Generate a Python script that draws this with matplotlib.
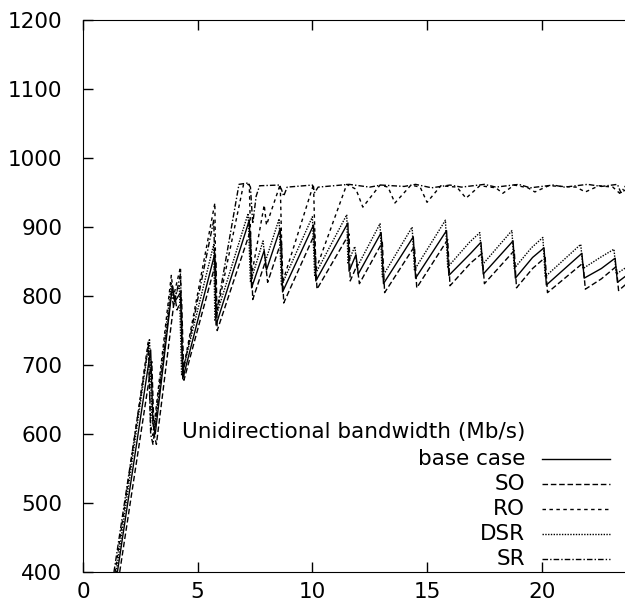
import matplotlib
matplotlib.use("Agg")
import matplotlib.pyplot as plt
from matplotlib.lines import Line2D

plt.rcParams['font.family'] = ['DejaVu Sans']

# data (time vs bandwidth)
base_x = [1.5, 2.95, 3.05, 3.15, 3.9, 4.0, 4.25, 4.35, 5.75, 5.8, 7.25, 7.35, 7.9, 8.0, 8.6, 8.7,
          10.05, 10.15, 11.55, 11.6, 11.9, 12.0, 13.0, 13.1, 14.4, 14.5, 15.85, 15.95, 16.9, 17.35,
          17.45, 18.75, 18.85, 19.6, 20.1, 20.2, 21.75, 21.85, 22.6, 23.2, 23.3, 23.7]
base_y = [400, 722, 615, 600, 815, 792, 805, 680, 862, 758, 910, 812, 866, 838, 898, 806,
          903, 822, 906, 836, 860, 832, 892, 818, 886, 826, 895, 830, 862, 878,
          832, 880, 826, 856, 870, 816, 862, 826, 840, 855, 820, 830]

so_x = [1.6, 3.0, 3.1, 3.2, 4.0, 4.1, 4.3, 4.4, 5.8, 5.85, 7.3, 7.4, 7.95, 8.05, 8.65, 8.75,
        10.1, 10.2, 11.6, 11.65, 11.95, 12.05, 13.05, 13.15, 14.45, 14.55, 15.9, 16.0, 16.9, 17.4,
        17.5, 18.8, 18.9, 19.6, 20.15, 20.25, 21.8, 21.9, 22.6, 23.25, 23.35, 23.7]
so_y = [400, 705, 600, 585, 800, 780, 795, 678, 850, 750, 895, 795, 850, 820, 880, 790,
        890, 810, 890, 822, 845, 818, 878, 805, 872, 812, 882, 815, 848, 862,
        818, 866, 812, 840, 856, 805, 848, 810, 825, 843, 808, 818]

ro_x = [1.4, 2.85, 2.95, 3.05, 3.85, 3.95, 4.25, 4.35, 5.75, 5.8, 7.0, 7.25, 7.35, 7.9, 8.0,
        8.6, 8.7, 10.05, 10.15, 11.5, 11.9, 12.2, 12.95, 13.3, 13.6, 14.3, 14.7, 15.0, 15.6,
        16.3, 16.7, 17.3, 18.0, 18.3, 18.8, 19.4, 19.7, 20.3, 21.5, 21.9, 22.5, 23.1, 23.4, 23.7]
ro_y = [400, 735, 612, 598, 830, 800, 842, 690, 935, 770, 962, 962, 830, 932, 903,
        962, 820, 962, 838, 962, 955, 929, 961, 958, 935, 961, 958, 936, 960,
        958, 942, 960, 957, 949, 961, 957, 951, 960, 958, 951, 960, 958, 949, 955]

dsr_x = [1.45, 2.9, 3.0, 3.1, 3.85, 3.95, 4.2, 4.3, 5.7, 5.75, 7.2, 7.3, 7.85, 7.95, 8.55, 8.65,
         10.0, 10.1, 11.5, 11.55, 11.85, 11.95, 12.95, 13.05, 14.35, 14.45, 15.8, 15.9, 16.85, 17.3,
         17.4, 18.7, 18.8, 19.55, 20.05, 20.15, 21.7, 21.8, 22.55, 23.15, 23.25, 23.7]
dsr_y = [400, 738, 625, 605, 818, 795, 815, 685, 875, 765, 920, 820, 880, 850, 912, 815,
         915, 830, 918, 848, 872, 842, 905, 828, 900, 838, 910, 842, 878, 892,
         845, 895, 840, 870, 885, 828, 875, 840, 856, 868, 832, 842]

sr_x = [1.35, 2.85, 2.95, 3.05, 3.85, 3.95, 4.25, 4.35, 5.7, 5.8, 6.8, 7.2, 7.3, 7.4, 7.55, 7.7,
        8.55, 8.65, 8.75, 8.9, 10.0, 10.1, 10.25, 11.6, 12.5, 13.0, 14.0, 14.5, 15.2, 16.0, 16.5,
        17.5, 18.0, 19.0, 19.5, 20.5, 21.0, 22.0, 22.6, 23.3, 23.45, 23.7]
sr_y = [400, 728, 600, 585, 805, 785, 832, 688, 910, 772, 962, 964, 958, 905, 945, 960,
        961, 955, 945, 958, 961, 950, 958, 962, 958, 961, 959, 962, 957, 961, 958,
        962, 958, 962, 957, 961, 958, 962, 959, 962, 950, 962]

names = ['base case', 'SO', 'RO', 'DSR', 'SR']
styles = ['-', (0, (4, 2)), (0, (2.5, 2.5)), (0, (1, 1)), (0, (4, 1.5, 1, 1.5))]
series = [(base_x, base_y), (so_x, so_y), (ro_x, ro_y), (dsr_x, dsr_y), (sr_x, sr_y)]

fig = plt.figure(figsize=(6.25, 6.09), dpi=100)
ax = fig.add_axes([0.1328, 0.0608, 0.8672, 0.906])

for (xs, ys), ls in zip(series, styles):
    ax.plot(xs, ys, color='black', linestyle=ls, linewidth=1.0)

ax.set_xlim(0, 23.63)
ax.set_ylim(400, 1200)
ax.set_xticks([0, 5, 10, 15, 20])
ax.set_yticks(range(400, 1201, 100))
ax.tick_params(direction='in', length=7, labelsize=15.5, top=True, right=False, width=1)
ax.tick_params(axis='y', pad=15)
ax.tick_params(axis='x', pad=7)
ax.spines['right'].set_visible(False)

# gnuplot-style key in the lower right
ax.text(0.8155, 0.2536, 'Unidirectional bandwidth (Mb/s)', transform=ax.transAxes,
        ha='right', va='center', fontsize=15.5)
for i, (name, ls) in enumerate(zip(names, styles)):
    yy = 0.2047 - i * 0.0453
    ax.text(0.8155, yy, name, transform=ax.transAxes, ha='right', va='center', fontsize=15.5)
    ax.add_line(Line2D([0.8469, 0.9723], [yy, yy], transform=ax.transAxes,
                       color='black', linestyle=ls, linewidth=1.0))

fig.savefig('out.png', dpi=100)
